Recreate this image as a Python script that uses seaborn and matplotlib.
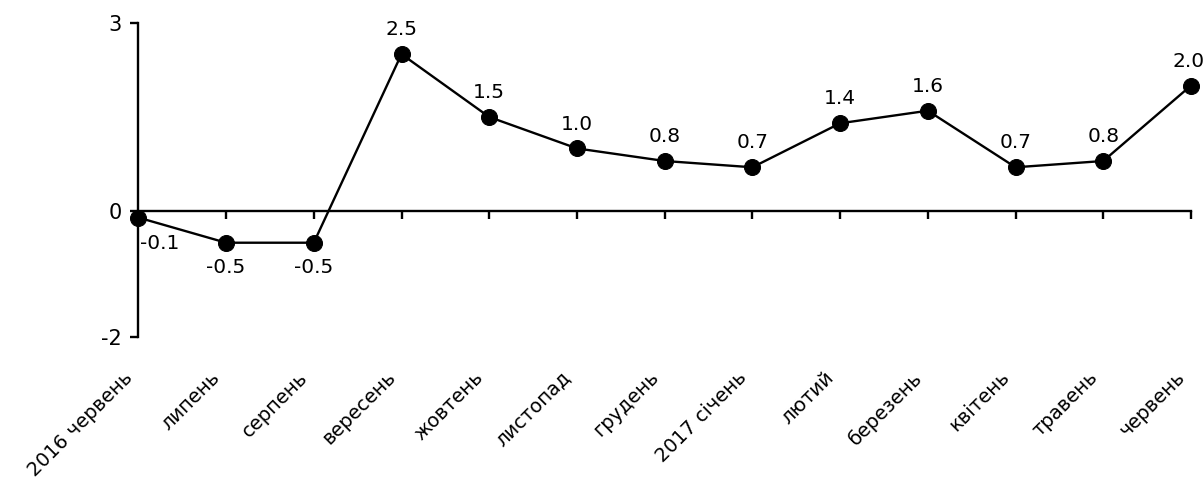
import matplotlib
matplotlib.use("Agg")
from matplotlib import pyplot as plt
from matplotlib.transforms import ScaledTranslation
import seaborn as sns
import pandas as pd

# monthly values, June 2016 - June 2017
months = ["2016 червень", "липень", "серпень", "вересень", "жовтень", "листопад",
          "грудень", "2017 січень", "лютий", "березень", "квітень", "травень", "червень"]
values = [-0.1, -0.5, -0.5, 2.5, 1.5, 1.0, 0.8, 0.7, 1.4, 1.6, 0.7, 0.8, 2.0]
y_ticks = [-2, 0, 3]

sns.set_style("white")
plt.rcParams['font.family'] = ['DejaVu Sans']
plt.rcParams['text.color'] = 'black'
plt.rcParams['xtick.color'] = 'black'
plt.rcParams['ytick.color'] = 'black'

df = pd.DataFrame({"pos": range(len(months)), "value": values})

fig = plt.figure(figsize=(12.04, 4.84), dpi=100)
ax = fig.add_axes([0.1149, 0.3037, 0.8743, 0.6494])

sns.lineplot(data=df, x="pos", y="value", ax=ax, color="black", linewidth=1.7,
             marker="o", markersize=11.5, markeredgecolor="black", clip_on=False, zorder=5)

ax.set_xlim(0, len(months) - 1)
ax.set_ylim(min(y_ticks), max(y_ticks))
ax.set_yticks(y_ticks)
ax.set_yticklabels([str(t) for t in y_ticks], fontsize=15)
ax.set_xlabel("")
ax.set_ylabel("")

# x axis line sits at zero, labels stay at the bottom
for side in ["top", "right"]:
    ax.spines[side].set_visible(False)
ax.spines["bottom"].set_position(("data", 0))
for side in ["bottom", "left"]:
    ax.spines[side].set_linewidth(1.7)
    ax.spines[side].set_color("black")
ax.set_xticks(range(len(months)))
ax.tick_params(axis="x", bottom=True, direction="out", length=6, width=1.7,
               labelbottom=False, color="black")
ax.tick_params(axis="y", left=True, direction="out", length=6, width=1.7, pad=6, color="black")

sec = ax.secondary_xaxis("bottom")
sec.set_xticks(range(len(months)))
sec.set_xticklabels(months, rotation=45, ha="right", va="center",
                    rotation_mode="anchor", fontsize=14)
sec.spines["bottom"].set_visible(False)
sec.tick_params(length=0, pad=27)
shift = ScaledTranslation(-0.09, 0, fig.dpi_scale_trans)
for lab in sec.get_xticklabels():
    lab.set_transform(lab.get_transform() + shift)

last = len(values) - 1
for i, v in enumerate(values):
    if v < 0 and i == 0:
        ax.annotate(f"{v:.1f}", (i, v), xytext=(1.5, -19), textcoords="offset points",
                    ha="left", va="center", fontsize=14.5)
    elif v < 0:
        ax.annotate(f"{v:.1f}", (i, v), xytext=(0, -18), textcoords="offset points",
                    ha="center", va="center", fontsize=14.5)
    else:
        dx = -2 if i == last else 0
        ax.annotate(f"{v:.1f}", (i, v), xytext=(dx, 17.5), textcoords="offset points",
                    ha="center", va="center", fontsize=14.5)

plt.savefig("out.png", dpi=100)
